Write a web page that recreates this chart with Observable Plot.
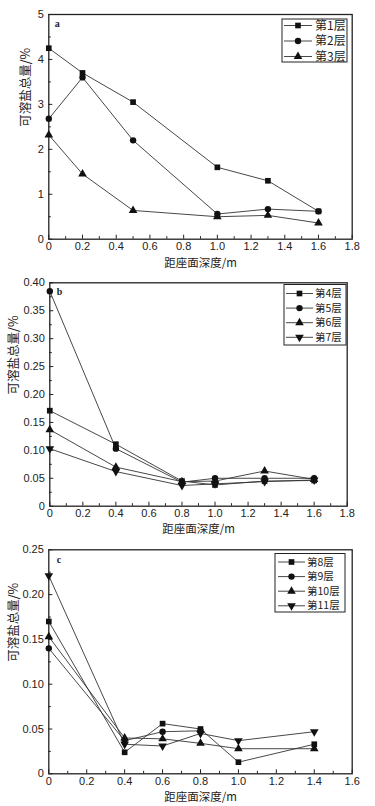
<!DOCTYPE html>
<html><head><meta charset="utf-8">
<script src="https://cdn.jsdelivr.net/npm/d3@7"></script>
<script src="https://cdn.jsdelivr.net/npm/@observablehq/plot@0.6"></script>
<style>
body{margin:0;background:#fff;width:375px;}
#c svg{display:block;background:#fff;}
</style></head><body><div id="c"></div>
<script>
// ---- Data ----
const xTitle = "距座面深度/m";
const yTitle = "可溶盐总量/%";

// Panel a
const depthA = [0, 0.2, 0.5, 1.0, 1.3, 1.6];
const namesA = ["第1层", "第2层", "第3层"];
const layer1 = [4.25, 3.70, 3.05, 1.60, 1.30, 0.62];
const layer2 = [2.68, 3.60, 2.20, 0.56, 0.67, 0.62];
const layer3 = [2.32, 1.45, 0.64, 0.50, 0.53, 0.36];

// Panel b
const depthB = [0, 0.4, 0.8, 1.0, 1.3, 1.6];
const namesB = ["第4层", "第5层", "第6层", "第7层"];
const layer4 = [0.171, 0.111, 0.045, 0.038, 0.045, 0.046];
const layer5 = [0.385, 0.103, 0.043, 0.050, 0.050, 0.050];
const layer6 = [0.137, 0.070, 0.044, 0.045, 0.063, 0.048];
const layer7 = [0.103, 0.062, 0.037, 0.040, 0.044, 0.047];

// Panel c
const depthC = [0, 0.4, 0.6, 0.8, 1.0, 1.4];
const depthC9 = [0, 0.4, 0.6, 0.8];
const namesC = ["第8层", "第9层", "第10层", "第11层"];
const layer8 = [0.170, 0.024, 0.056, 0.050, 0.013, 0.033];
const layer9 = [0.140, 0.037, 0.047, 0.048];
const layer10 = [0.153, 0.040, 0.039, 0.034, 0.028, 0.028];
const layer11 = [0.221, 0.033, 0.031, 0.045, 0.037, 0.047];

// Tick values
const xTicksA = [0, 0.2, 0.4, 0.6, 0.8, 1.0, 1.2, 1.4, 1.6, 1.8];
const xTicksC = [0, 0.2, 0.4, 0.6, 0.8, 1.0, 1.2, 1.4, 1.6];
const yTicksA = [0, 1, 2, 3, 4, 5];
const yTicksB = [0, 0.05, 0.10, 0.15, 0.20, 0.25, 0.30, 0.35, 0.40];
const yTicksC = [0, 0.05, 0.10, 0.15, 0.20, 0.25];

const symbols = [
  {symbol: "square", rotate: 0},
  {symbol: "circle", rotate: 0},
  {symbol: "triangle", rotate: 0},
  {symbol: "triangle", rotate: 180}
];

function rows(xs, ys, name) { return xs.map((x, i) => ({x, y: ys[i], name})); }
function minors(ticks) {
  const out = [];
  for (let i = 0; i < ticks.length - 1; i++) out.push((ticks[i] + ticks[i + 1]) / 2);
  return out;
}

const SANS = "Liberation Sans, Arial, sans-serif";
const CJK = "Noto Sans CJK SC, sans-serif";
const R = 3.2;

function panel(cfg) {
  const W = 375;
  const pw = W - cfg.ml - cfg.mr;
  const ph = cfg.height - cfg.mt - cfg.mb;
  const marks = [
    Plot.frame({stroke: "#222", strokeWidth: 1.3}),
    Plot.axisX(cfg.xTicks, {tickSize: 0, tickPadding: 3, fontSize: 11, fontFamily: SANS, fill: "#222",
      tickFormat: d => d === 0 ? "0" : d.toFixed(1), label: null}),
    Plot.axisY(cfg.yTicks, {tickSize: 0, tickPadding: 5, fontSize: 11, fontFamily: SANS, fill: "#222",
      tickFormat: cfg.yFmt, label: null}),
    Plot.tickX(cfg.xTicks, {x: d => d, insetTop: ph - 4, stroke: "#222", strokeWidth: 1}),
    Plot.tickX(minors(cfg.xTicks), {x: d => d, insetTop: ph - 2.5, stroke: "#222", strokeWidth: 1}),
    Plot.tickY(cfg.yTicks, {y: d => d, insetRight: pw - 4, stroke: "#222", strokeWidth: 1}),
    Plot.tickY(minors(cfg.yTicks), {y: d => d, insetRight: pw - 2.5, stroke: "#222", strokeWidth: 1})
  ];
  cfg.series.forEach((s, i) => {
    const data = rows(s.xs, s.ys, s.name);
    marks.push(Plot.line(data, {x: "x", y: "y", stroke: "#333", strokeWidth: 0.9}));
  });
  cfg.series.forEach((s, i) => {
    const data = rows(s.xs, s.ys, s.name);
    marks.push(Plot.dot(data, {x: "x", y: "y", r: R, fill: "#111", stroke: "none",
      symbol: symbols[i].symbol, rotate: symbols[i].rotate}));
  });
  marks.push(Plot.text([xTitle], {frameAnchor: "bottom", lineAnchor: "middle", dy: cfg.xTitleDy, fontSize: 11.5, fontFamily: CJK, fill: "#222"}));
  marks.push(Plot.text([yTitle], {frameAnchor: "left", lineAnchor: "middle", rotate: -90, dx: -cfg.yTitleDx, fontSize: 12.5, fontFamily: CJK, fill: "#222"}));
  marks.push(Plot.text([cfg.tag], {frameAnchor: "top-left", textAnchor: "start", lineAnchor: "middle", dx: cfg.tagDx, dy: cfg.tagDy,
    fontSize: 10, fontWeight: "bold", fontFamily: "Liberation Serif, serif", fill: "#222"}));

  const svg = Plot.plot({
    width: W, height: cfg.height,
    marginTop: cfg.mt, marginBottom: cfg.mb, marginLeft: cfg.ml, marginRight: cfg.mr,
    x: {domain: cfg.xDomain},
    y: {domain: cfg.yDomain},
    style: {background: "#fff"},
    marks
  });

  // Legend box drawn into the same SVG
  const L = cfg.legend;
  const g = d3.select(svg).append("g");
  g.append("rect").attr("x", L.x0).attr("y", L.y0).attr("width", L.x1 - L.x0).attr("height", L.y1 - L.y0)
    .attr("fill", "#fff").attr("stroke", "#222").attr("stroke-width", 1);
  cfg.series.forEach((s, i) => {
    const y = L.row0 + i * L.step;
    g.append("line").attr("x1", L.lx0).attr("x2", L.lx1).attr("y1", y).attr("y2", y)
      .attr("stroke", "#333").attr("stroke-width", 0.9);
    const sym = {square: d3.symbolSquare, circle: d3.symbolCircle, triangle: d3.symbolTriangle}[symbols[i].symbol];
    g.append("path").attr("d", d3.symbol(sym, R * R * Math.PI)())
      .attr("transform", `translate(${(L.lx0 + L.lx1) / 2},${y}) rotate(${symbols[i].rotate})`)
      .attr("fill", "#111");
    g.append("text").attr("x", L.tx).attr("y", y).attr("dy", "0.35em").attr("text-anchor", "start")
      .attr("font-size", L.fs).attr("font-family", CJK).attr("fill", "#222").text(s.name);
  });
  return svg;
}

const root = document.getElementById("c");

root.appendChild(panel({
  height: 270, mt: 14, mb: 31.3, ml: 48.3, mr: 23.3,
  xDomain: [0, 1.8], yDomain: [0, 5], xTicks: xTicksA, yTicks: yTicksA,
  yFmt: d => String(d),
  series: [
    {name: namesA[0], xs: depthA, ys: layer1},
    {name: namesA[1], xs: depthA, ys: layer2},
    {name: namesA[2], xs: depthA, ys: layer3}
  ],
  xTitleDy: 24, yTitleDx: 23, tag: "a", tagDx: 6, tagDy: 9,
  legend: {x0: 282, x1: 347, y0: 19, y1: 62, row0: 25.5, step: 15.5, lx0: 284, lx1: 312, tx: 315, fs: 12}
}));

root.appendChild(panel({
  height: 267, mt: 12.3, mb: 31.3, ml: 49.3, mr: 28.3,
  xDomain: [0, 1.8], yDomain: [0, 0.40], xTicks: xTicksA, yTicks: yTicksB,
  yFmt: d => d === 0 ? "0" : d.toFixed(2),
  series: [
    {name: namesB[0], xs: depthB, ys: layer4},
    {name: namesB[1], xs: depthB, ys: layer5},
    {name: namesB[2], xs: depthB, ys: layer6},
    {name: namesB[3], xs: depthB, ys: layer7}
  ],
  xTitleDy: 23.5, yTitleDx: 36, tag: "b", tagDx: 7, tagDy: 9.4,
  legend: {x0: 284, x1: 346, y0: 14.5, y1: 75, row0: 23.5, step: 14.6, lx0: 286, lx1: 313, tx: 315, fs: 10.5}
}));

root.appendChild(panel({
  height: 269, mt: 12.3, mb: 32.7, ml: 48.3, mr: 23.3,
  xDomain: [0, 1.6], yDomain: [0, 0.25], xTicks: xTicksC, yTicks: yTicksC,
  yFmt: d => d === 0 ? "0" : d.toFixed(2),
  series: [
    {name: namesC[0], xs: depthC, ys: layer8},
    {name: namesC[1], xs: depthC9, ys: layer9},
    {name: namesC[2], xs: depthC, ys: layer10},
    {name: namesC[3], xs: depthC, ys: layer11}
  ],
  xTitleDy: 23.5, yTitleDx: 35, tag: "c", tagDx: 8, tagDy: 10,
  legend: {x0: 275, x1: 345, y0: 16.5, y1: 75, row0: 25, step: 14.6, lx0: 278, lx1: 305, tx: 307, fs: 10.5}
}));
</script>
</body></html>
